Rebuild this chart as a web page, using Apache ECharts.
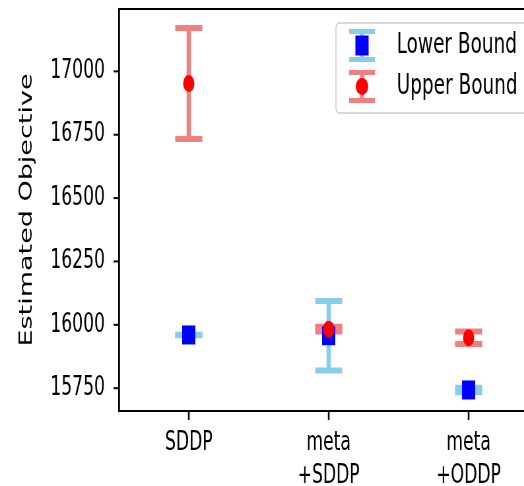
<!DOCTYPE html>
<html>
<head>
<meta charset="utf-8">
<script src="https://cdn.jsdelivr.net/npm/echarts@6/dist/echarts.min.js"></script>
<style>
  html, body { margin: 0; padding: 0; overflow: hidden; background: #fff; }
  /* the reference figure is squeezed horizontally, so draw wide and squeeze */
  #main { width: 794px; height: 486px; transform: scaleX(0.66); transform-origin: 0 0; }
</style>
</head>
<body>
<div id="main"></div>
<script>
const categories = ['SDDP', 'meta\n+SDDP', 'meta\n+ODDP'];
const categoryPos = [0.5, 1.5, 2.5];
const lowerMean = [15960, 15957, 15743];
const lowerErr = [1, 137, 9];
const upperMean = [16952, 15983, 15949];
const upperErr = [219, 9, 25];
const yTicks = [15750, 16000, 16250, 16500, 16750, 17000];
const X_MIN = 0, X_MAX = 3;
const Y_MIN = 15660, Y_MAX = 17246;

const BLUE_BAR = '#87CEEB';
const RED_BAR = '#F08080';
const FONT = 'DejaVu Sans';

// legend icons: error bar with marker, as small svg pictures
function iconSvg(barColor, marker) {
    let svg = '<svg xmlns="http://www.w3.org/2000/svg" width="39" height="33" viewBox="0 0 39 33">' +
        '<rect x="16.5" y="0" width="6" height="33" fill="' + barColor + '"/>' +
        '<rect x="0" y="0" width="39" height="5" fill="' + barColor + '"/>' +
        '<rect x="0" y="28" width="39" height="5" fill="' + barColor + '"/>' +
        marker + '</svg>';
    return 'image://data:image/svg+xml;charset=utf-8,' + encodeURIComponent(svg);
}
const lowerIcon = iconSvg(BLUE_BAR, '<rect x="9.5" y="6.5" width="20" height="20" fill="#0000FF"/>');
const upperIcon = iconSvg(RED_BAR, '<ellipse cx="19.5" cy="16.5" rx="9.5" ry="8.5" fill="#FF0000"/>');

function errData(mean, err) {
    return mean.map(function (m, i) { return [categoryPos[i], m, err[i]]; });
}

function errRender(color) {
    return function (params, api) {
        let i = api.value(0), m = api.value(1), e = api.value(2);
        let top = api.coord([i, m + e]);
        let bot = api.coord([i, m - e]);
        let cx = top[0];
        return {
            type: 'group',
            children: [
                { type: 'rect', shape: { x: cx - 3.25, y: top[1], width: 6.5, height: bot[1] - top[1] }, style: { fill: color } },
                { type: 'rect', shape: { x: cx - 20.5, y: top[1] - 3, width: 41, height: 6 }, style: { fill: color } },
                { type: 'rect', shape: { x: cx - 20.5, y: bot[1] - 3, width: 41, height: 6 }, style: { fill: color } }
            ]
        };
    };
}

// tick marks (the axis ticks were not showing), placed from the axis scales
function tickRender(dx, dy, width) {
    return function (params, api) {
        let p = api.coord([api.value(0), api.value(1)]);
        return {
            type: 'line',
            shape: { x1: p[0], y1: p[1], x2: p[0] + dx, y2: p[1] + dy },
            style: { stroke: '#000', lineWidth: width }
        };
    };
}

let myChart = echarts.init(document.getElementById('main'), null, { width: 794, height: 486 });

let option = {
    animation: false,
    backgroundColor: '#fff',
    grid: {
        left: 180, right: -22, top: 9, bottom: 75, outerBoundsMode: 'none',
        show: true, borderColor: '#000', borderWidth: 2
    },
    legend: {
        left: 509,
        top: 23,
        orient: 'vertical',
        itemWidth: 39,
        itemHeight: 33,
        itemGap: 8,
        padding: [6, 20, 10, 20],
        backgroundColor: 'rgba(255,255,255,0.8)',
        borderColor: '#cccccc',
        borderWidth: 1.5,
        borderRadius: 5,
        textStyle: { fontFamily: FONT, fontSize: 28, color: '#000', padding: [0, 0, 0, 28] },
        data: [
            { name: 'Lower Bound', icon: lowerIcon },
            { name: 'Upper Bound', icon: upperIcon }
        ]
    },
    xAxis: {
        type: 'value',
        min: X_MIN,
        max: X_MAX,
        axisLine: { show: true, onZero: false, lineStyle: { color: '#000', width: 2 } },
        axisTick: { show: false },
        axisLabel: {
            fontFamily: FONT, fontSize: 26, color: '#000', lineHeight: 33, margin: 16,
            customValues: categoryPos,
            formatter: function (v) { return categories[Math.floor(v)]; }
        },
        splitLine: { show: false }
    },
    yAxis: {
        type: 'value',
        min: Y_MIN,
        max: Y_MAX,
        name: 'Estimated Objective',
        nameLocation: 'middle',
        nameGap: 126,
        nameTextStyle: { fontFamily: FONT, fontSize: 27, color: '#000' },
        axisLine: { show: true, lineStyle: { color: '#000', width: 2.5 } },
        axisTick: { show: false },
        axisLabel: {
            fontFamily: FONT, fontSize: 26, color: '#000', margin: 21, customValues: yTicks,
            formatter: function (v) { return String(v); }
        },
        splitLine: { show: false }
    },
    series: [
        {
            name: 'xTicks',
            type: 'custom',
            silent: true,
            clip: false,
            renderItem: tickRender(0, 9, 2.5),
            data: categoryPos.map(function (p) { return [p, Y_MIN]; }),
            z: 1
        },
        {
            name: 'yTicks',
            type: 'custom',
            silent: true,
            clip: false,
            renderItem: tickRender(-8, 0, 2),
            data: yTicks.map(function (v) { return [X_MIN, v]; }),
            z: 1
        },
        {
            name: 'Lower Bound',
            type: 'custom',
            renderItem: errRender(BLUE_BAR),
            encode: { x: 0, y: [1] },
            data: errData(lowerMean, lowerErr),
            z: 2
        },
        {
            name: 'Upper Bound',
            type: 'custom',
            renderItem: errRender(RED_BAR),
            encode: { x: 0, y: [1] },
            data: errData(upperMean, upperErr),
            z: 2
        },
        {
            name: 'Lower Bound',
            type: 'scatter',
            symbol: 'rect',
            symbolSize: [20, 19],
            itemStyle: { color: '#0000FF', opacity: 1 },
            data: lowerMean.map(function (v, i) { return [categoryPos[i], v]; }),
            z: 3
        },
        {
            name: 'Upper Bound',
            type: 'scatter',
            symbol: 'circle',
            symbolSize: 17,
            itemStyle: { color: '#FF0000', opacity: 1 },
            data: upperMean.map(function (v, i) { return [categoryPos[i], v]; }),
            z: 3
        }
    ]
};
myChart.setOption(option);
</script>
</body>
</html>
